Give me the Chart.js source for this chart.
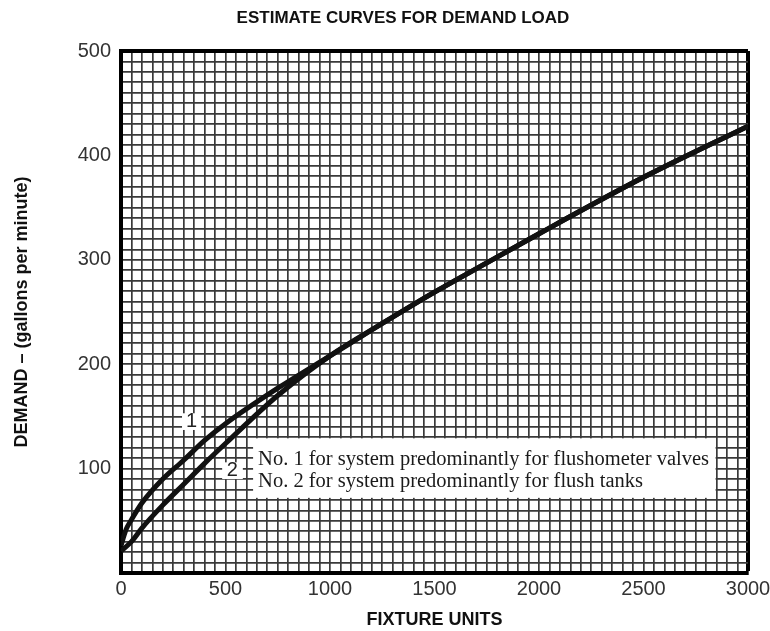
<!DOCTYPE html>
<html>
<head>
<meta charset="utf-8">
<title>Estimate Curves for Demand Load</title>
<script src="https://cdn.jsdelivr.net/npm/chart.js@4.4.1/dist/chart.umd.min.js"></script>
<style>
  html, body { margin: 0; padding: 0; background: #fff; }
  canvas { display: block; }
</style>
</head>
<body>
<canvas id="demandChart" width="770" height="631"></canvas>
<script>
// Curve 1 - flushometer valves
const valveFixtureUnits = [0, 10, 25, 50, 100, 200, 300, 400, 500, 750, 1000, 1250, 1500, 1750, 2000, 2500, 3000];
const valveDemandGpm    = [26, 33, 42, 51, 67, 90, 108, 127, 143, 177, 208, 239, 269, 297, 325, 379, 428];

// Curve 2 - flush tanks
const tankFixtureUnits = [0, 50, 100, 200, 300, 400, 500, 750, 1000, 1250, 1500, 1750, 2000, 2500, 3000];
const tankDemandGpm    = [21, 30, 43, 65, 85, 105, 124, 170, 208, 239, 269, 297, 325, 379, 428];

// axis ticks that carry a label
const xTickLabels = [0, 500, 1000, 1500, 2000, 2500, 3000];
const yTickLabels = [100, 200, 300, 400, 500];

const legendLines = [
    'No. 1 for system predominantly for flushometer valves',
    'No. 2 for system predominantly for flush tanks'
];

function toPoints(xs, ys) {
    return xs.map(function(x, i) { return { x: x, y: ys[i] }; });
}

// title drawn by hand so it can sit where the original puts it
const titlePlugin = {
    id: 'titleText',
    afterDraw: function(chart) {
        const ctx = chart.ctx;
        ctx.save();
        ctx.font = 'bold 17px "Liberation Sans", Arial, sans-serif';
        ctx.fillStyle = '#111';
        ctx.textAlign = 'center';
        ctx.textBaseline = 'middle';
        ctx.fillText('ESTIMATE CURVES FOR DEMAND LOAD', 403, 18);
        ctx.restore();
    }
};

// white label boxes on top of the grid, under the curves
const labelPlugin = {
    id: 'curveLabels',
    beforeDatasetsDraw: function(chart) {
        const ctx = chart.ctx;
        const xs = chart.scales.x;
        const ys = chart.scales.y;
        function box(x0, x1, y0, y1) {
            const l = xs.getPixelForValue(x0), r = xs.getPixelForValue(x1);
            const t = ys.getPixelForValue(y1), b = ys.getPixelForValue(y0);
            ctx.fillRect(l, t, r - l, b - t);
        }
        ctx.save();
        ctx.fillStyle = '#fff';
        box(292, 384, 137, 153);
        box(484, 583, 90, 106);
        box(632, 2845, 72, 129);

        ctx.fillStyle = '#222';
        ctx.textAlign = 'center';
        ctx.textBaseline = 'middle';
        ctx.font = '20px "Liberation Sans", Arial, sans-serif';
        ctx.fillText('1', xs.getPixelForValue(338), ys.getPixelForValue(145));
        ctx.fillText('2', xs.getPixelForValue(533), ys.getPixelForValue(98));

        ctx.textAlign = 'left';
        ctx.font = '20.5px "Liberation Serif", "Times New Roman", serif';
        ctx.fillStyle = '#1a1a1a';
        ctx.fillText(legendLines[0], xs.getPixelForValue(656), ys.getPixelForValue(109));
        ctx.fillText(legendLines[1], xs.getPixelForValue(656), ys.getPixelForValue(88));
        ctx.restore();
    }
};

const curveStyle = {
    borderColor: '#111',
    borderWidth: 5,
    pointRadius: 0,
    fill: false,
    showLine: true,
    cubicInterpolationMode: 'monotone'
};

const ctx = document.getElementById('demandChart').getContext('2d');
new Chart(ctx, {
    type: 'scatter',
    data: {
        datasets: [
            Object.assign({ label: 'No. 1', data: toPoints(valveFixtureUnits, valveDemandGpm) }, curveStyle),
            Object.assign({ label: 'No. 2', data: toPoints(tankFixtureUnits, tankDemandGpm) }, curveStyle)
        ]
    },
    options: {
        responsive: false,
        animation: false,
        layout: { padding: { left: 0, right: 22, top: 51, bottom: 0 } },
        plugins: {
            legend: { display: false },
            tooltip: { enabled: false },
            title: { display: false }
        },
        scales: {
            x: {
                type: 'linear',
                min: 0,
                max: 3000,
                afterFit: function(scale) {
                    scale.height = 58;
                    // let the end labels hang into the layout padding
                    scale.paddingLeft = 0;
                    scale.paddingRight = 0;
                },
                border: { color: '#000', width: 4 },
                grid: {
                    drawTicks: false,
                    color: function(c) { return c.tick && c.tick.value === 3000 ? '#000' : '#3a3a3a'; },
                    lineWidth: function(c) { return c.tick && c.tick.value === 3000 ? 4 : 1.7; }
                },
                ticks: {
                    stepSize: 50,
                    autoSkip: false,
                    maxRotation: 0,
                    padding: 4,
                    color: '#333',
                    font: { family: '"Liberation Sans", Arial, sans-serif', size: 20 },
                    callback: function(value) {
                        return xTickLabels.indexOf(value) >= 0 ? String(value) : '';
                    }
                },
                title: {
                    display: true,
                    text: 'FIXTURE UNITS',
                    color: '#111',
                    padding: { top: 0, bottom: 0 },
                    font: { family: '"Liberation Sans", Arial, sans-serif', size: 18, weight: 'bold' }
                }
            },
            y: {
                type: 'linear',
                min: 0,
                max: 500,
                afterFit: function(scale) { scale.width = 121; },
                border: { color: '#000', width: 4 },
                grid: {
                    drawTicks: false,
                    color: function(c) { return c.tick && c.tick.value === 500 ? '#000' : '#3a3a3a'; },
                    lineWidth: function(c) { return c.tick && c.tick.value === 500 ? 4 : 1.7; }
                },
                ticks: {
                    stepSize: 10,
                    autoSkip: false,
                    padding: 10,
                    color: '#333',
                    font: { family: '"Liberation Sans", Arial, sans-serif', size: 20 },
                    callback: function(value) {
                        return yTickLabels.indexOf(value) >= 0 ? String(value) : '';
                    }
                },
                title: {
                    display: true,
                    text: 'DEMAND \u2013 (gallons per minute)',
                    color: '#111',
                    padding: { top: 11, bottom: 0 },
                    font: { family: '"Liberation Sans", Arial, sans-serif', size: 18, weight: 'bold' }
                }
            }
        }
    },
    plugins: [labelPlugin, titlePlugin]
});
</script>
</body>
</html>
